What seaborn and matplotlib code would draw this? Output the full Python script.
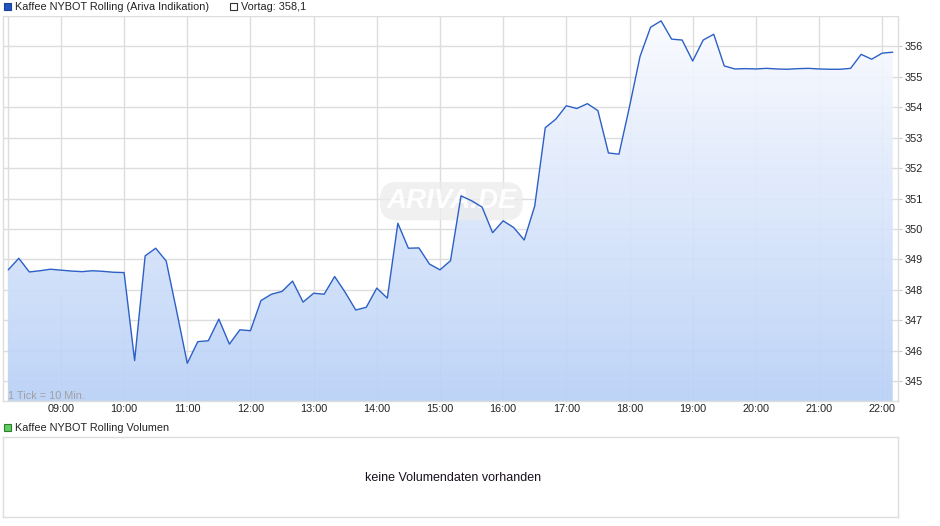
#!/usr/bin/env python3
# -*- coding: utf-8 -*-
# Intraday chart: Kaffee NYBOT Rolling, 10-minute ticks, with an empty volume panel
import numpy as np
import pandas as pd
import seaborn as sns
import matplotlib
matplotlib.use("Agg")
import matplotlib.pyplot as plt
import matplotlib.dates as mdates
from matplotlib.colors import LinearSegmentedColormap
from matplotlib.patches import PathPatch, Rectangle

# data (one value per 10 minutes, first at 08:10)
start_time = "2024-01-01 08:10"
prices = [
    348.66, 349.04, 348.59, 348.63, 348.68,                    # 08:10 - 08:50
    348.65, 348.62, 348.60, 348.63, 348.61, 348.58,            # 09:00 - 09:50
    348.57, 345.68, 349.12, 349.37, 348.95, 347.29,            # 10:00 - 10:50
    345.59, 346.30, 346.33, 347.04, 346.22, 346.69,            # 11:00 - 11:50
    346.66, 347.65, 347.86, 347.95, 348.29, 347.60,            # 12:00 - 12:50
    347.89, 347.86, 348.44, 347.92, 347.34, 347.43,            # 13:00 - 13:50
    348.06, 347.73, 350.19, 349.37, 349.38, 348.85,            # 14:00 - 14:50
    348.66, 348.96, 351.09, 350.93, 350.72, 349.88,            # 15:00 - 15:50
    350.27, 350.05, 349.64, 350.76, 353.33, 353.61,            # 16:00 - 16:50
    354.05, 353.96, 354.12, 353.89, 352.50, 352.46,            # 17:00 - 17:50
    354.02, 355.67, 356.63, 356.84, 356.24, 356.21,            # 18:00 - 18:50
    355.52, 356.21, 356.40, 355.36, 355.26, 355.27,            # 19:00 - 19:50
    355.26, 355.28, 355.26, 355.25, 355.27, 355.28,            # 20:00 - 20:50
    355.26, 355.25, 355.25, 355.28, 355.74, 355.58,            # 21:00 - 21:50
    355.78, 355.81,                                            # 22:00 - 22:10
]
y_ticks = [345, 346, 347, 348, 349, 350, 351, 352, 353, 354, 355, 356]
x_tick_hours = ["09:00", "10:00", "11:00", "12:00", "13:00", "14:00", "15:00",
                "16:00", "17:00", "18:00", "19:00", "20:00", "21:00", "22:00"]
series_label = "Kaffee NYBOT Rolling (Ariva Indikation)"
prev_label = "Vortag: 358,1"
volume_label = "Kaffee NYBOT Rolling Volumen"
no_volume_text = "keine Volumendaten vorhanden"
tick_note = "1 Tick = 10 Min."

times = pd.date_range(start_time, periods=len(prices), freq="10min")
df = pd.DataFrame({"time": times, "price": prices})

sns.set_style("white")
plt.rcParams['font.family'] = ['Liberation Sans', 'DejaVu Sans']
fs = 7.8

W, H = 940, 526
fig = plt.figure(figsize=(W / 100, H / 100), dpi=100)

def fig_rect(x0, y0, x1, y1):
    """ pixel box (top-left origin) -> figure fraction [left, bottom, width, height] """
    return [x0 / W, 1 - y1 / H, (x1 - x0) / W, (y1 - y0) / H]

grid_col = "#dddddd"
line_col = "#2c60c6"

# ---- price panel ----
ax = fig.add_axes(fig_rect(3, 16, 898, 401))
ymin, ymax = 344.35, 357.0
xmin = pd.Timestamp("2024-01-01 08:05")
xmax = pd.Timestamp("2024-01-01 22:15")

# gradient fill under the line, clipped to the area below the curve
poly = ax.fill_between(df["time"], df["price"], ymin, color="none", lw=0)
clip = PathPatch(poly.get_paths()[0], transform=ax.transData, facecolor="none", edgecolor="none")
ax.add_patch(clip)
cmap = LinearSegmentedColormap.from_list("fill", ["#b8d0f7", "#fbfcff"])
grad = np.linspace(0, 1, 256).reshape(-1, 1)
im = ax.imshow(grad, extent=[mdates.date2num(xmin), mdates.date2num(xmax), ymin, ymax],
               origin="lower", aspect="auto", cmap=cmap, zorder=1, alpha=0.92)
im.set_clip_path(clip)

sns.lineplot(data=df, x="time", y="price", color=line_col, linewidth=1.0, ax=ax, zorder=3)

ax.set_xlim(xmin, xmax)
ax.set_ylim(ymin, ymax)
ax.set_xlabel("")
ax.set_ylabel("")

# grid
ax.set_axisbelow(True)
ax.grid(True, color=grid_col, linewidth=1.0, zorder=0)
ax.axvline(df["time"].iloc[0], color=grid_col, linewidth=1.0, zorder=0)
ax.axhline(357.0, color=grid_col, linewidth=1.0, zorder=0)

hour_ticks = [pd.Timestamp("2024-01-01 " + h) for h in x_tick_hours]
ax.set_xticks(hour_ticks)
ax.set_xticklabels(x_tick_hours)
ax.set_yticks(y_ticks)
ax.set_yticklabels([str(v) for v in y_ticks])
ax.yaxis.tick_right()
ax.tick_params(axis="x", length=0, pad=2, labelsize=fs, colors="#222222")
ax.tick_params(axis="y", length=3, width=0.8, color="#cccccc", pad=2, labelsize=fs,
               labelcolor="#222222")
for side in ["left", "right", "bottom"]:
    ax.spines[side].set_color(grid_col)
    ax.spines[side].set_linewidth(1.0)
ax.spines["top"].set_visible(False)

ax.text(0.006, 0.0, tick_note, transform=ax.transAxes, fontsize=fs,
        color="#a0a0a0", ha="left", va="bottom", zorder=4)

# watermark
ax.text(0.501, 0.519, "ARIVA.DE", transform=ax.transAxes, fontsize=20,
        fontstyle="italic", fontweight="bold", color="white", ha="center", va="center",
        zorder=2, alpha=0.95,
        bbox=dict(boxstyle="round,pad=0.22,rounding_size=0.6", facecolor="#ececec",
                  edgecolor="none", alpha=0.75))

# ---- legend rows (figure pixels) ----
def legend_box(x, y, face, edge):
    fig.add_artist(Rectangle((x / W, 1 - (y + 7) / H), 7 / W, 7 / H, transform=fig.transFigure,
                             facecolor=face, edgecolor=edge, linewidth=0.8))

legend_box(4, 2.5, "#1f55c0", "#1a3f8c")
fig.text(15 / W, 1 - 6.5 / H, series_label, fontsize=fs, color="#222222", va="center")
legend_box(230, 2.5, "white", "#333333")
fig.text(241 / W, 1 - 6.5 / H, prev_label, fontsize=fs, color="#222222", va="center")

legend_box(4, 424, "#5fcf5f", "#2e7d2e")
fig.text(15 / W, 1 - 428 / H, volume_label, fontsize=fs, color="#222222", va="center")

# ---- volume panel (empty) ----
vax = fig.add_axes(fig_rect(3, 437, 898, 517))
vax.set_xticks([])
vax.set_yticks([])
for side in vax.spines.values():
    side.set_color(grid_col)
    side.set_linewidth(1.0)
vax.text(0.503, 0.49, no_volume_text, transform=vax.transAxes, fontsize=9,
         color="#1a0f1f", ha="center", va="center")

fig.savefig("out.png", dpi=100)
